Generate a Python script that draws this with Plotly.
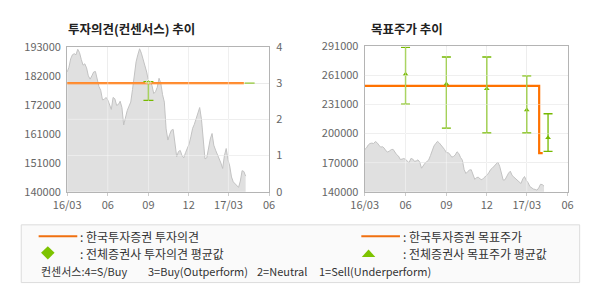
import plotly.graph_objects as go
import pandas as pd

W, H = 590, 300

# ---------------- data ----------------
price_start = "2016-03-01"
price_step = "4D"
prices = [
    183800, 185500, 188600, 190100, 190500, 190100, 192100, 190900, 188400, 186300,
    186800, 185300, 182400, 181200, 182400, 183800, 184000, 181200, 178500, 177100,
    173600, 173800, 174500, 173600, 171600, 170100, 174500, 174000, 171600, 171900,
    173100, 170800, 164400, 167400, 169700, 171300, 172800, 177400, 183800, 187500,
    190100, 192300, 190700, 188400, 187000, 183800, 180500, 180500, 178900, 175900,
    176600, 178200, 181500, 179700, 175500, 172800, 163000, 158900, 160900, 162500,
    162800, 158400, 152800, 154700, 155100, 153200, 152400, 154300, 155800, 157400,
    160100, 163200, 164700, 166500, 168500, 170800, 166500, 158400, 152000, 152400,
    156100, 159300, 161300, 157000, 155200, 153700, 152200, 150500, 148500, 153200,
    155800, 151700, 149400, 145400, 143600, 142800, 142400, 141600, 143900, 147700,
    147400, 145700,
]

# company (한국투자증권) investment opinion
opinion_dates = ["2016-03-01", "2017-04-05"]
opinion_values = [3, 3]

# consensus investment opinion (avg / high / low)
cons_op_dates = ["2016-09-01", "2017-04-18"]
cons_op_avg = [3.04, 3.0]
cons_op_high = [3.04, 3.0]
cons_op_low = [2.52, 3.0]

# company target price
target_dates = ["2016-03-01", "2017-03-29", "2017-04-06"]
target_values = [250000, 180000, 180000]

# consensus target price (avg / high / low)
cons_tp_dates = ["2016-06-01", "2016-09-01", "2016-12-01", "2017-03-01", "2017-04-18"]
cons_tp_avg = [262000, 252000, 247000, 225000, 196000]
cons_tp_high = [290000, 280000, 280000, 260500, 221000]
cons_tp_low = [231000, 206000, 201000, 201000, 182000]

x_range = ["2016-03-01", "2017-06-01"]
x_tickvals = ["2016-03-01", "2016-06-01", "2016-09-01", "2016-12-01", "2017-03-01", "2017-06-01"]
x_ticktext = ["16/03", "06", "09", "12", "17/03", "06"]

left_y_range = [140000, 193000]
left_y_tickvals = [140000, 150600, 161200, 171800, 182400, 193000]
left_y_ticktext = ["140000", "151000", "161000", "172000", "182000", "193000"]

op_range = [0, 4]
op_tickvals = [0, 1, 2, 3, 4]
op_ticktext = ["0", "1", "2", "3", "4"]

right_y_range = [140000, 291000]
right_y_tickvals = [140000, 170200, 200400, 230600, 260800, 291000]
right_y_ticktext = ["140000", "170000", "200000", "231000", "261000", "291000"]

price_dates = pd.date_range(price_start, periods=len(prices), freq=price_step)

# ---------------- style ----------------
FONT = "Noto Sans CJK KR"
ORANGE = "#ff7200"
GREEN = "#76b900"
AREA_FILL = "#e0e0e0"
AREA_LINE = "#c2c2c2"
GRID = "#e6e6e6"
AXLINE = "#b4b4b4"
TICKFONT = dict(family=FONT, size=11, color="#666666")


def px(x):
    return x / W


def py(y):
    return 1 - y / H


fig = go.Figure()

# --- left chart ---
fig.add_trace(go.Scatter(
    x=price_dates, y=prices, xaxis="x", yaxis="y", mode="lines",
    line=dict(color=AREA_LINE, width=1), fill="tozeroy", fillcolor=AREA_FILL,
    hoverinfo="skip"))
fig.add_trace(go.Scatter(
    x=opinion_dates, y=opinion_values, xaxis="x", yaxis="y2", mode="lines",
    line=dict(color=ORANGE, width=2.2), hoverinfo="skip"))
fig.add_trace(go.Scatter(
    x=cons_op_dates, y=cons_op_avg, xaxis="x", yaxis="y2", mode="markers",
    marker=dict(symbol="triangle-up", size=[5, 0], color=GREEN),
    error_y=dict(type="data", symmetric=False,
                 array=[h - a for h, a in zip(cons_op_high, cons_op_avg)],
                 arrayminus=[a - l for a, l in zip(cons_op_avg, cons_op_low)],
                 color=GREEN, thickness=1.3, width=5),
    hoverinfo="skip"))

# --- right chart ---
fig.add_trace(go.Scatter(
    x=price_dates, y=prices, xaxis="x2", yaxis="y3", mode="lines",
    line=dict(color=AREA_LINE, width=1), fill="tozeroy", fillcolor=AREA_FILL,
    hoverinfo="skip"))
fig.add_trace(go.Scatter(
    x=target_dates, y=target_values, xaxis="x2", yaxis="y3", mode="lines",
    line=dict(color=ORANGE, width=2.2, shape="hv"), hoverinfo="skip"))
fig.add_trace(go.Scatter(
    x=cons_tp_dates, y=cons_tp_avg, xaxis="x2", yaxis="y3", mode="markers",
    marker=dict(symbol="triangle-up", size=5, color=GREEN),
    error_y=dict(type="data", symmetric=False,
                 array=[h - a for h, a in zip(cons_tp_high, cons_tp_avg)],
                 arrayminus=[a - l for a, l in zip(cons_tp_avg, cons_tp_low)],
                 color=GREEN, thickness=1.3, width=4.5),
    hoverinfo="skip"))

xcommon = dict(type="date", range=x_range, tickvals=x_tickvals, ticktext=x_ticktext,
               showgrid=True, gridcolor=GRID, gridwidth=1, showline=True, linecolor=AXLINE,
               linewidth=1, mirror=True, ticks="outside", ticklen=3, tickcolor="#cccccc",
               tickfont=TICKFONT, zeroline=False, fixedrange=True)

left_dom_y = [py(193), py(40)]
right_dom_y = [py(193), py(39.5)]

fig.update_layout(
    width=W, height=H, margin=dict(l=0, r=0, t=0, b=0),
    paper_bgcolor="white", plot_bgcolor="white", showlegend=False,
    xaxis=dict(domain=[px(55), px(264)], anchor="y", **xcommon),
    yaxis=dict(domain=left_dom_y, anchor="x", range=left_y_range,
               tickvals=left_y_tickvals, ticktext=left_y_ticktext,
               showgrid=False, showline=True, linecolor=AXLINE, ticks="",
               ticklabelstandoff=3, tickfont=TICKFONT, zeroline=False),
    yaxis2=dict(overlaying="y", side="right", anchor="x", range=op_range,
                tickvals=op_tickvals, ticktext=op_ticktext,
                showgrid=True, gridcolor=GRID, showline=True, linecolor=AXLINE,
                ticks="", ticklabelstandoff=4, tickfont=TICKFONT, zeroline=False),
    xaxis2=dict(domain=[px(363), px(573)], anchor="y3", **xcommon),
    yaxis3=dict(domain=right_dom_y, anchor="x2", range=right_y_range,
                tickvals=right_y_tickvals, ticktext=right_y_ticktext,
                showgrid=True, gridcolor=GRID, showline=True, linecolor=AXLINE,
                mirror=True, ticks="", ticklabelstandoff=3, tickfont=TICKFONT,
                zeroline=False),
)

shapes = []
# lighter gridlines drawn over the price area
GRID_OVER = "rgba(255,255,255,0.4)"
for xv in x_tickvals[1:-1]:
    shapes.append(dict(type="line", xref="x", yref="y2 domain", x0=xv, x1=xv, y0=0, y1=1,
                       line=dict(color=GRID_OVER, width=1), layer="above"))
    shapes.append(dict(type="line", xref="x2", yref="y3 domain", x0=xv, x1=xv, y0=0, y1=1,
                       line=dict(color=GRID_OVER, width=1), layer="above"))
for yv in op_tickvals[1:-1]:
    shapes.append(dict(type="line", xref="x domain", yref="y2", x0=0, x1=1, y0=yv, y1=yv,
                       line=dict(color=GRID_OVER, width=1), layer="above"))
for yv in right_y_tickvals[1:-1]:
    shapes.append(dict(type="line", xref="x2 domain", yref="y3", x0=0, x1=1, y0=yv, y1=yv,
                       line=dict(color=GRID_OVER, width=1), layer="above"))

# legend box
shapes.append(dict(type="rect", xref="paper", yref="paper", x0=px(7.5), x1=px(585.5),
                   y0=py(289), y1=py(228), fillcolor="#fafafa",
                   line=dict(color="#dcdcdc", width=1), layer="below"))
# legend glyphs
shapes.append(dict(type="line", xref="paper", yref="paper", x0=px(25.5), x1=px(65.5),
                   y0=py(240), y1=py(240), line=dict(color="#f07010", width=2)))
shapes.append(dict(type="line", xref="paper", yref="paper", x0=px(359.5), x1=px(399.5),
                   y0=py(240), y1=py(240), line=dict(color="#f07010", width=2)))
dcx, dcy = 35, 257.5
shapes.append(dict(type="path", xref="paper", yref="paper",
                   path=(f"M {px(dcx-7)},{py(dcy)} L {px(dcx)},{py(dcy-7)} "
                         f"L {px(dcx+7)},{py(dcy)} L {px(dcx)},{py(dcy+7)} Z"),
                   fillcolor="#7dc300", line=dict(width=0)))
tcx, tcy = 367, 258
shapes.append(dict(type="path", xref="paper", yref="paper",
                   path=(f"M {px(tcx-7)},{py(tcy+4)} L {px(tcx)},{py(tcy-4)} "
                         f"L {px(tcx+7)},{py(tcy+4)} Z"),
                   fillcolor="#7dc300", line=dict(width=0)))

annotations = []


def label(text, x, y, size=12, bold=False, color="#333333"):
    annotations.append(dict(
        text=f"<b>{text}</b>" if bold else text, xref="paper", yref="paper",
        x=px(x), y=py(y), xanchor="left", yanchor="middle", showarrow=False,
        font=dict(family=FONT, size=size, color=color)))


label("투자의견(컨센서스) 추이", 54, 20.5, size=12.5, bold=True, color="#222222")
label("목표주가 추이", 367, 20.5, size=12.5, bold=True, color="#222222")
label(": 한국투자증권 투자의견", 66.5, 240, size=12)
label(": 한국투자증권 목표주가", 400.5, 240, size=12)
label(": 전체증권사 투자의견 평균값", 66.5, 258, size=12)
label(": 전체증권사 목표주가 평균값", 400.5, 258, size=12)
label("컨센서스:4=S/Buy", 25.5, 277, size=11)
label("3=Buy(Outperform)", 137, 277, size=11)
label("2=Neutral", 249.5, 277, size=11)
label("1=Sell(Underperform)", 313.5, 277, size=11)

fig.update_layout(shapes=shapes, annotations=annotations)
fig.write_html("out.html")
